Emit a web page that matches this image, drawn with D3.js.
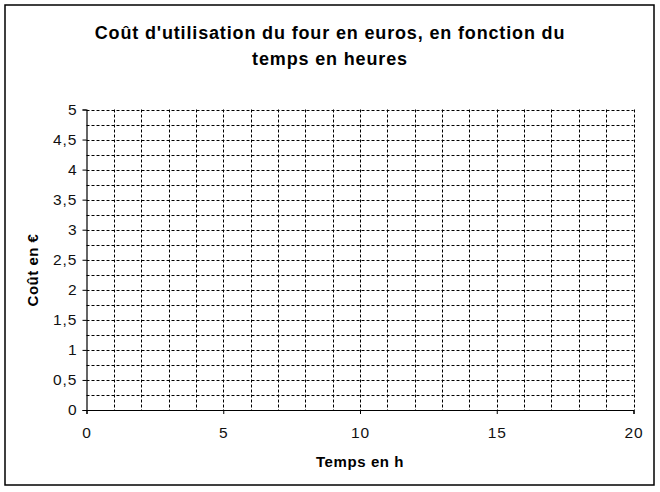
<!DOCTYPE html>
<html><head><meta charset="utf-8">
<script src="https://cdn.jsdelivr.net/npm/d3@7"></script>
<style>body{margin:0;background:#fff;} svg{display:block;}</style>
</head><body>
<script>
const titleLines = ["Coût d'utilisation du four en euros, en fonction du", "temps en heures"];
const xLabel = "Temps en h";
const yLabel = "Coût en €";
const xDomain = [0, 20];
const yDomain = [0, 5];
const xTicks = [0, 5, 10, 15, 20];
const yTicks = [0, 0.5, 1, 1.5, 2, 2.5, 3, 3.5, 4, 4.5, 5];
const xGrid = d3.range(0, 21, 1);
const yGrid = d3.range(0, 5.001, 0.25);

const W = 660, H = 492;
const m = {left: 86.5, right: 633.5, top: 109.5, bottom: 410};
const svg = d3.select("body").append("svg").attr("width", W).attr("height", H);
svg.append("rect").attr("x", 5).attr("y", 5).attr("width", 649).attr("height", 480)
  .attr("fill", "#fff").attr("stroke", "#000").attr("stroke-width", 1.5);

const x = d3.scaleLinear().domain(xDomain).range([m.left, m.right]);
const y = d3.scaleLinear().domain(yDomain).range([m.bottom, m.top]);

const grid = svg.append("g").attr("stroke", "#000").attr("stroke-width", 1).attr("stroke-dasharray", "3,2");
grid.selectAll("line.h").data(yGrid.filter(d => d > 0)).join("line")
  .attr("x1", m.left).attr("x2", m.right)
  .attr("y1", d => Math.round(y(d)) + 0.5).attr("y2", d => Math.round(y(d)) + 0.5);
grid.selectAll("line.v").data(xGrid.filter(d => d > 0)).join("line")
  .attr("y1", m.top).attr("y2", m.bottom)
  .attr("x1", d => Math.round(x(d)) + 0.5).attr("x2", d => Math.round(x(d)) + 0.5);

const font = "'Liberation Sans', Arial, sans-serif";
const xa = svg.append("g").attr("transform", `translate(0,${m.bottom})`)
  .call(d3.axisBottom(x).tickValues(xTicks).tickSize(4).tickPadding(13).tickFormat(d3.format("d")));
const ya = svg.append("g").attr("transform", `translate(${m.left},0)`)
  .call(d3.axisLeft(y).tickValues(yTicks).tickSize(4).tickPadding(5).tickFormat(d => String(d).replace(".", ",")));
[xa, ya].forEach(a => {
  a.select(".domain").attr("stroke", "#000").attr("stroke-width", 1.2);
  a.selectAll(".tick line").attr("stroke", "#000");
  a.selectAll("text").attr("font-family", font).attr("font-size", 15.5)
    .attr("letter-spacing", 1).attr("fill", "#111");
});

svg.append("text").attr("x", 330).attr("font-family", font).attr("font-weight", "bold")
  .attr("font-size", 18).attr("letter-spacing", 0.85).attr("text-anchor", "middle")
  .selectAll("tspan").data(titleLines).join("tspan")
  .attr("x", 330).attr("y", (d, i) => 39 + i * 26).text(d => d);

svg.append("text").attr("x", (m.left + m.right) / 2).attr("y", 467).attr("text-anchor", "middle")
  .attr("font-family", font).attr("font-weight", "bold").attr("font-size", 15)
  .attr("letter-spacing", 0.6).text(xLabel);
svg.append("text").attr("transform", `translate(38,270) rotate(-90)`)
  .attr("text-anchor", "middle").attr("font-family", font).attr("font-weight", "bold")
  .attr("font-size", 15).attr("letter-spacing", 0.5).text(yLabel);
</script>
</body></html>
